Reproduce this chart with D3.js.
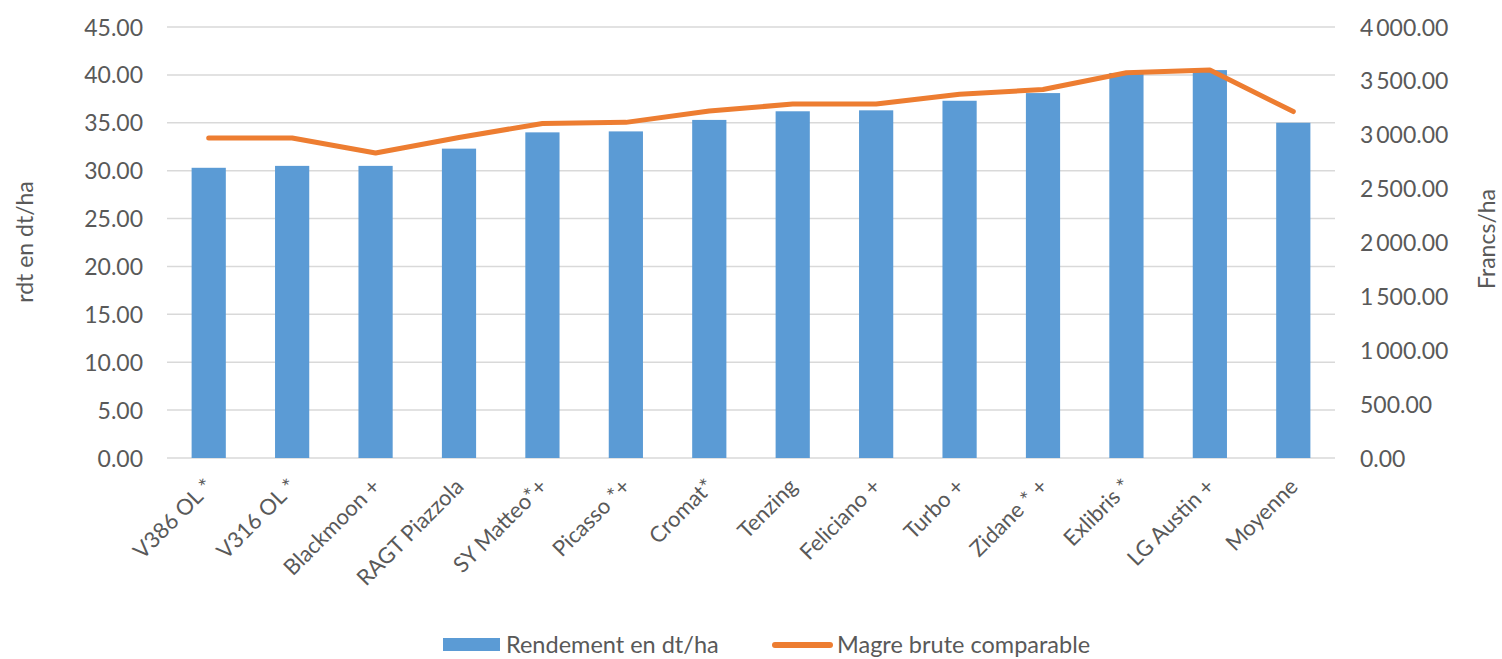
<!DOCTYPE html>
<html>
<head>
<meta charset="utf-8">
<script src="https://cdn.jsdelivr.net/npm/d3@7"></script>
<style>
  body { margin: 0; background: #fff; }
  svg text { font-family: Lato, "Open Sans", sans-serif; fill: #595959; }
</style>
</head>
<body>
<script>
// données
var categories = ["V386 OL *", "V316 OL *", "Blackmoon +", "RAGT Piazzola", "SY Matteo*+", "Picasso *+",
    "Cromat*", "Tenzing", "Feliciano +", "Turbo +", "Zidane * +", "Exlibris *", "LG Austin +", "Moyenne"];
var rendement = [30.3, 30.5, 30.5, 32.3, 34.0, 34.1, 35.3, 36.2, 36.3, 37.3, 38.1, 40.2, 40.5, 35.0];
var marge = [2970, 2970, 2830, 2975, 3105, 3115, 3220, 3285, 3285, 3375, 3420, 3575, 3600, 3215];
var leftTicks = [0, 5, 10, 15, 20, 25, 30, 35, 40, 45];
var rightTicks = [0, 500, 1000, 1500, 2000, 2500, 3000, 3500, 4000];

var width = 1502, height = 659;
var plotLeft = 167, plotRight = 1335, plotTop = 27, plotBottom = 458;

var svg = d3.select("body").append("svg").attr("width", width).attr("height", height);

var x = d3.scaleBand().domain(categories).range([plotLeft, plotRight]).paddingInner(0.59).paddingOuter(0.295);
var y = d3.scaleLinear().domain([0, 45]).range([plotBottom, plotTop]);
var y2 = d3.scaleLinear().domain([0, 4000]).range([plotBottom, plotTop]);

var fr = d3.formatLocale({ decimal: ".", thousands: "\u2009", grouping: [3], currency: ["", ""] });
var fmt = fr.format(",.2f");

//grille
svg.append("g").selectAll("line").data(leftTicks).enter().append("line")
    .attr("x1", plotLeft).attr("x2", plotRight)
    .attr("y1", function (d) { return y(d); }).attr("y2", function (d) { return y(d); })
    .style("stroke", "#d9d9d9").style("stroke-width", 1.5);

//axe gauche
svg.append("g").attr("transform", "translate(143,0)")
    .call(d3.axisLeft(y).tickValues(leftTicks).tickFormat(d3.format(".2f")).tickSize(0).tickPadding(0))
    .call(function (g) { g.select(".domain").remove(); })
    .selectAll("text").style("font-size", "23px").attr("text-anchor", "end").attr("dy", "0.35em");

//axe droit
svg.append("g").attr("transform", "translate(1360,0)")
    .call(d3.axisRight(y2).tickValues(rightTicks).tickFormat(fmt).tickSize(0).tickPadding(0))
    .call(function (g) { g.select(".domain").remove(); })
    .selectAll("text").style("font-size", "23px").attr("text-anchor", "start").attr("dy", "0.35em");

//barres
svg.append("g").selectAll("rect").data(rendement).enter().append("rect")
    .attr("x", function (d, i) { return x(categories[i]); })
    .attr("y", function (d) { return y(d); })
    .attr("width", x.bandwidth())
    .attr("height", function (d) { return plotBottom - y(d); })
    .style("fill", "#5b9bd5");

//ligne
var line = d3.line()
    .x(function (d, i) { return x(categories[i]) + x.bandwidth() / 2; })
    .y(function (d) { return y2(d); });
svg.append("path").datum(marge).attr("d", line)
    .style("fill", "none").style("stroke", "#ed7d31").style("stroke-width", 5)
    .style("stroke-linecap", "round").style("stroke-linejoin", "round");

//étiquettes des catégories
svg.append("g").selectAll("text").data(categories).enter().append("text")
    .attr("transform", function (d) {
        return "translate(" + (x(d) + x.bandwidth() / 2 + 6) + ",488) rotate(-45)";
    })
    .attr("text-anchor", "end")
    .style("font-size", "22px")
    .text(function (d) { return d; });

//titres des axes
svg.append("text").attr("transform", "translate(33,242) rotate(-90)")
    .attr("text-anchor", "middle").style("font-size", "23px").text("rdt en dt/ha");
svg.append("text").attr("transform", "translate(1495,239) rotate(-90)")
    .attr("text-anchor", "middle").style("font-size", "23px").text("Francs/ha");

//légende
var lg = svg.append("g");
lg.append("rect").attr("x", 443).attr("y", 638).attr("width", 57).attr("height", 13).style("fill", "#5b9bd5");
lg.append("text").attr("x", 506).attr("y", 653).style("font-size", "23.5px").text("Rendement en dt/ha");
lg.append("line").attr("x1", 775).attr("x2", 830).attr("y1", 645).attr("y2", 645)
    .style("stroke", "#ed7d31").style("stroke-width", 6).style("stroke-linecap", "round");
lg.append("text").attr("x", 837).attr("y", 653).style("font-size", "23.5px").text("Magre brute comparable");
</script>
</body>
</html>
